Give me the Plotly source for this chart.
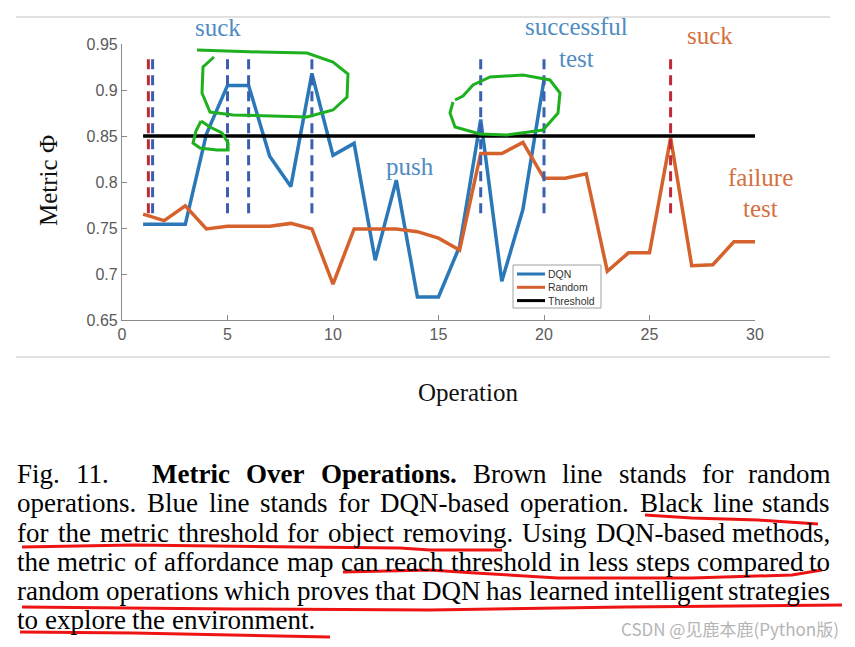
import plotly.graph_objects as go

# data
ops = list(range(1, 31))
dqn = [0.754, 0.754, 0.754, 0.852, 0.905, 0.905, 0.828, 0.795, 0.918, 0.829,
       0.842, 0.715, 0.802, 0.675, 0.675, 0.730, 0.868, 0.692, 0.770, 0.911]
rand = [0.765, 0.758, 0.774, 0.749, 0.752, 0.752, 0.752, 0.755, 0.749, 0.689,
        0.749, 0.749, 0.749, 0.746, 0.739, 0.726, 0.831, 0.831, 0.843, 0.804,
        0.804, 0.809, 0.703, 0.723, 0.723, 0.848, 0.709, 0.710, 0.735, 0.735]
threshold = 0.85
blue_marks = [1.45, 5, 6, 9, 17, 20]
red_marks = [1.25, 26]
mark_lo, mark_hi = 0.766, 0.94

x_ticks = [0, 5, 10, 15, 20, 25, 30]
y_ticks = [0.65, 0.7, 0.75, 0.8, 0.85, 0.9, 0.95]
y_ticktext = ["0.65", "0.7", "0.75", "0.8", "0.85", "0.9", "0.95"]

caption = [
    [("Fig.", 0), ("11.", 0), ("Metric", 1), ("Over", 1), ("Operations.", 1),
     ("Brown", 0), ("line", 0), ("stands", 0), ("for", 0), ("random", 0)],
    "operations. Blue line stands for DQN-based operation. Black line stands",
    "for the metric threshold for object removing. Using DQN-based methods,",
    "the metric of affordance map can reach threshold in less steps compared to",
    "random operations which proves that DQN has learned intelligent strategies",
    "to explore the environment.",
]

BLUE = "#2a78b8"
ORANGE = "#d5622c"
BLUE_TXT = "#4f8cc2"
ORANGE_TXT = "#d4703e"

W, H = 855, 647
OFF = 8  # default body margin of the html page
# plot area in page pixels
L, R, T, B = 122, 755, 44, 320


def fx(px):
    return (px - L) / (R - L)


def fy(py):
    return (B - py) / (B - T)


# Times metrics (per 1000 em) for justifying the caption
REG = dict(zip("abcdefghijklmnopqrstuvwxyz",
               [444, 500, 444, 500, 444, 333, 500, 500, 278, 278, 500, 278, 778,
                500, 500, 500, 500, 333, 389, 278, 500, 500, 722, 500, 500, 444]))
REG.update({"B": 667, "D": 722, "F": 556, "N": 722, "Q": 722, "U": 722,
            "M": 889, "O": 722, ".": 250, ",": 250, "-": 333, "1": 500})
BOLD = dict(REG)
BOLD.update({"M": 944, "t": 333, "r": 444, "O": 778, "p": 556, "a": 500,
             "n": 556, "e": 444, "c": 444})


def tw(word, size, bold=False):
    table = BOLD if bold else REG
    return sum(table.get(c, 500) for c in word) / 1000 * size


def note(text, px, py, size, color, family="Liberation Serif", xa="center", **kw):
    fig.add_annotation(text=text, xref="paper", yref="paper", x=fx(px), y=fy(py),
                       xanchor=xa, yanchor="middle", showarrow=False, borderpad=0,
                       font=dict(family=family, size=size, color=color), **kw)


fig = go.Figure()
series = [("DQN", ops[:len(dqn)], dqn, BLUE),
          ("Random", ops, rand, ORANGE),
          ("Threshold", [ops[0], ops[-1]], [threshold, threshold], "black")]
for name, xs, ys, col in series:
    fig.add_trace(go.Scatter(x=xs, y=ys, mode="lines", name=name, showlegend=False,
                             line=dict(color=col, width=3.5)))

for x in blue_marks:
    fig.add_shape(type="line", xref="x", yref="y", x0=x, x1=x, y0=mark_lo, y1=mark_hi,
                  line=dict(color="#3a60b0", width=3, dash="10px,6px"))
for x in red_marks:
    fig.add_shape(type="line", xref="x", yref="y", x0=x, x1=x, y0=mark_lo, y1=mark_hi,
                  line=dict(color="#c02a3a", width=3, dash="10px,6px"))

# small legend box
fig.add_shape(type="rect", xref="paper", yref="paper", x0=fx(513), x1=fx(601),
              y0=fy(265), y1=fy(308), line=dict(color="#a0a0a0", width=1),
              fillcolor="white")
for k, (name, _, _, col) in enumerate(series):
    py = 274 + 13.3 * k
    fig.add_shape(type="line", xref="paper", yref="paper", x0=fx(517), x1=fx(545),
                  y0=fy(py), y1=fy(py), line=dict(color=col, width=3))
    note(name, 547, py, 10.5, "#333", family="Liberation Sans", xa="left")

# grey page rules
for py in (17, 357):
    fig.add_shape(type="line", xref="paper", yref="paper", x0=fx(16), x1=fx(830),
                  y0=fy(py), y1=fy(py), line=dict(color="#c4c4c4", width=1.2))


def path(pts):
    return "M " + " L ".join(f"{fx(a):.4f},{fy(b):.4f}" for a, b in pts)


green = [
    [(197, 50), (260, 52), (307, 53), (333, 62), (348, 74), (347, 97), (333, 110),
     (307, 117), (233, 115), (210, 112), (202, 93), (203, 67), (214, 57)],
    [(201, 121), (196, 131), (193, 143), (200, 148), (217, 150), (228, 150),
     (228, 143), (222, 133), (210, 127), (201, 121)],
    [(455, 100), (463, 96), (473, 85), (490, 77), (523, 75), (550, 80), (560, 93),
     (558, 113), (543, 130), (507, 135), (480, 134), (455, 127), (450, 113), (453, 102)],
]
for pts in green:
    fig.add_shape(type="path", xref="paper", yref="paper", path=path(pts),
                  line=dict(color="#1fb01f", width=3))

red = [
    [(645, 515), (692, 518), (758, 520), (818, 524)],
    [(22, 547), (133, 545), (300, 547), (400, 548), (430, 550), (502, 550)],
    [(343, 572), (430, 570), (475, 573), (558, 578), (692, 578), (792, 575), (822, 570)],
    [(22, 607), (233, 609), (430, 610), (625, 607), (842, 605)],
    [(20, 632), (133, 633), (330, 637)],
]
for pts in red:
    fig.add_shape(type="path", xref="paper", yref="paper", path=path(pts),
                  line=dict(color="#ee1414", width=3))

labels = [("suck", 218, 28, BLUE_TXT), ("successful", 576, 27, BLUE_TXT),
          ("test", 576, 58, BLUE_TXT), ("push", 410, 166, BLUE_TXT),
          ("suck", 710, 35, ORANGE_TXT), ("failure", 760, 177, ORANGE_TXT),
          ("test", 760, 208, ORANGE_TXT)]
for txt, px, py, col in labels:
    note(txt, px, py, 25, col)

# axis titles
note("Operation", 468, 392, 25, "#111")
note("Metric Φ", 48, 181, 25, "#111", textangle=-90)

# justified caption
FS = 27
left, right = 16, 831
baselines = [481.5, 511, 540.5, 570, 599, 628]
for i, line in enumerate(caption):
    words = line if isinstance(line, list) else [(w, 0) for w in line.split()]
    widths = [tw(w, FS, b) for w, b in words]
    extra = [0] * len(words)
    if i == 0:
        extra[2] = FS  # quad after the figure number
    if i < len(caption) - 1:
        gap = (right - left - sum(widths) - sum(extra)) / (len(words) - 1)
    else:
        gap = 0.25 * FS
    cy = baselines[i] - 8
    xpos = left
    for k, ((w, b), wd) in enumerate(zip(words, widths)):
        xpos += extra[k]
        last = i < len(caption) - 1 and k == len(words) - 1
        note(f"<b>{w}</b>" if b else w, right if last else xpos, cy, FS, "black",
             xa="right" if last else "left")
        xpos += wd + gap

note("CSDN @见鹿本鹿(Python版)", 840, 628, 17, "#b5b5b5",
     family="Noto Sans CJK SC", xa="right")

axis_common = dict(showline=True, linecolor="#8a8a8a", linewidth=1.2, ticks="inside",
                   ticklen=5, tickcolor="#8a8a8a", showgrid=False, zeroline=False,
                   tickfont=dict(family="Liberation Sans", size=16, color="#5a5a5a"))
fig.update_xaxes(range=[0, 30], tickvals=x_ticks, **axis_common)
fig.update_yaxes(range=[0.65, 0.95], tickvals=y_ticks, ticktext=y_ticktext, **axis_common)

fig.update_layout(
    width=W, height=H,
    margin=dict(l=L - OFF, r=W - (R - OFF), t=T - OFF, b=H - (B - OFF), autoexpand=False),
    plot_bgcolor="white", paper_bgcolor="white",
    showlegend=False,
)

fig.write_html("out.html")
